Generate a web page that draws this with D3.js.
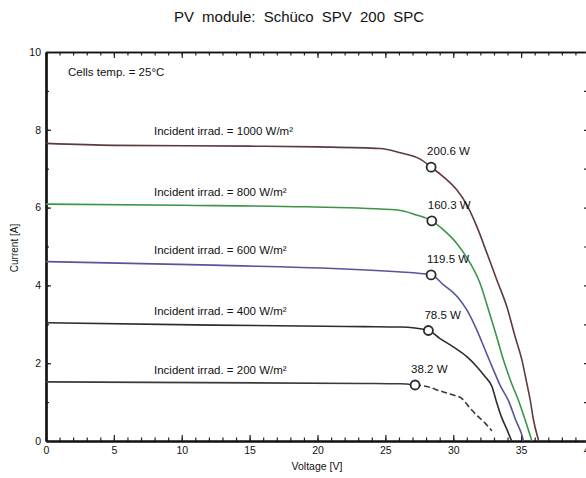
<!DOCTYPE html>
<html>
<head>
<meta charset="utf-8">
<script src="https://cdn.jsdelivr.net/npm/d3@7"></script>
<style>
  html, body { margin: 0; padding: 0; background: #fff; }
  svg { display: block; font-family: "Liberation Sans", Arial, sans-serif; }
</style>
</head>
<body>
<svg id="chart" width="586" height="478"></svg>
<script>
// ---- data ----
const irradiance = [1000, 800, 600, 400, 200];
const irradianceLabels = [
  "Incident irrad. = 1000 W/m\u00B2",
  "Incident irrad. = 800 W/m\u00B2",
  "Incident irrad. = 600 W/m\u00B2",
  "Incident irrad. = 400 W/m\u00B2",
  "Incident irrad. = 200 W/m\u00B2"
];
const powerLabels = ["200.6 W", "160.3 W", "119.5 W", "78.5 W", "38.2 W"];
const mppVoltage = [28.37, 28.42, 28.37, 28.17, 27.19];
const mppCurrent = [7.04, 5.66, 4.27, 2.84, 1.44];

const voltage1000 = [0, 5, 15, 20, 24.6, 26.1, 27.6, 28.37, 29.28, 30.27, 31.0, 31.74, 32.48, 33.21, 33.95, 34.56, 35.06, 35.42, 35.67, 35.91, 36.2, 36.3];
const current1000 = [7.65, 7.60, 7.58, 7.56, 7.52, 7.41, 7.24, 7.04, 6.79, 6.45, 6.07, 5.51, 4.83, 4.14, 3.45, 2.68, 2.08, 1.48, 1.05, 0.54, 0.12, 0];

const voltage800 = [0, 10, 19.2, 25.9, 27.3, 28.42, 29.3, 30.26, 30.88, 31.98, 32.6, 33.2, 33.7, 34.3, 34.8, 35.3, 35.7, 35.79];
const current800 = [6.09, 6.06, 6.02, 5.94, 5.81, 5.66, 5.42, 5.08, 4.78, 4.05, 3.37, 2.68, 2.08, 1.48, 1.05, 0.54, 0.10, 0];

const voltage600 = [0, 12.3, 25.9, 28.37, 29.3, 30.3, 31.0, 31.74, 32.35, 32.96, 33.5, 34.05, 34.6, 35.1, 35.17];
const current600 = [4.61, 4.52, 4.35, 4.27, 4.01, 3.71, 3.37, 2.85, 2.34, 1.83, 1.40, 1.05, 0.54, 0.10, 0];

const voltage400 = [0, 12.3, 23.4, 26.1, 28.17, 29.0, 30.0, 31.0, 31.74, 32.35, 32.85, 33.15, 33.55, 33.95, 34.3];
const current400 = [3.04, 2.98, 2.94, 2.93, 2.84, 2.64, 2.42, 2.17, 1.91, 1.65, 1.40, 1.05, 0.62, 0.30, 0];

const voltage200 = [0, 23.4, 26.1, 27.19, 28.05, 29.0, 30.0, 30.6, 31.25, 31.86, 32.35, 32.84];
const current200 = [1.52, 1.48, 1.47, 1.44, 1.40, 1.29, 1.18, 1.10, 0.84, 0.62, 0.46, 0.26];

const xTicks = [0, 5, 10, 15, 20, 25, 30, 35, 40];
const yTicks = [0, 2, 4, 6, 8, 10];

// ---- layout ----
const svg = d3.select("#chart");
const x = d3.scaleLinear().domain([0, 40]).range([46, 589]);
const y = d3.scaleLinear().domain([0, 10]).range([441, 52]);

const seriesV = [voltage1000, voltage800, voltage600, voltage400, voltage200];
const seriesI = [current1000, current800, current600, current400, current200];
const colors = ["#5e3a3c", "#3c9448", "#55559c", "#2c2c2c", "#3a3a3a"];

// title
svg.append("text").attr("x", 299).attr("y", 18)
  .attr("text-anchor", "middle").attr("dominant-baseline", "middle")
  .attr("font-size", 15).attr("fill", "#111").attr("word-spacing", 4)
  .text("PV module:  Sch\u00FCco   SPV 200 SPC");

// axes
const minorX = d3.range(0, 41, 1);
const minorY = d3.range(0, 11, 1);

function styleAxis(g, w) {
  g.select(".domain").attr("stroke", "#111").attr("stroke-width", w);
  g.selectAll(".tick line").attr("stroke", "#222").attr("stroke-width", 1.2);
  g.selectAll(".tick text").attr("fill", "#111").attr("font-size", 10.5);
}

// bottom
let g = svg.append("g").attr("transform", `translate(0,${y(0)})`)
  .call(d3.axisBottom(x).tickValues(minorX).tickSize(-3.5).tickFormat("").tickSizeOuter(0));
styleAxis(g, 2);
g = svg.append("g").attr("transform", `translate(0,${y(0)})`)
  .call(d3.axisBottom(x).tickValues(xTicks).tickSize(-6).tickPadding(6).tickSizeOuter(0));
styleAxis(g, 2);

// top
g = svg.append("g").attr("transform", `translate(0,${y(10)})`)
  .call(d3.axisTop(x).tickValues(minorX).tickSize(-3.5).tickFormat("").tickSizeOuter(0));
styleAxis(g, 1.6);
g = svg.append("g").attr("transform", `translate(0,${y(10)})`)
  .call(d3.axisTop(x).tickValues(xTicks).tickSize(-6).tickFormat("").tickSizeOuter(0));
styleAxis(g, 1.6);

// left
g = svg.append("g").attr("transform", `translate(${x(0)},0)`)
  .call(d3.axisLeft(y).tickValues(minorY).tickSize(-3).tickFormat("").tickSizeOuter(0));
styleAxis(g, 2.2);
g = svg.append("g").attr("transform", `translate(${x(0)},0)`)
  .call(d3.axisLeft(y).tickValues(yTicks).tickSize(-5).tickPadding(5).tickSizeOuter(0));
styleAxis(g, 2.2);

// right
g = svg.append("g").attr("transform", `translate(${x(40)},0)`)
  .call(d3.axisRight(y).tickValues(minorY).tickSize(-5).tickFormat("").tickSizeOuter(0));
styleAxis(g, 1.6);

// axis labels
svg.append("text").attr("x", 317).attr("y", 467)
  .attr("text-anchor", "middle").attr("dominant-baseline", "middle")
  .attr("font-size", 10.5).attr("fill", "#111").text("Voltage [V]");
svg.append("text").attr("transform", "translate(15,248) rotate(-90)")
  .attr("text-anchor", "middle").attr("dominant-baseline", "middle")
  .attr("font-size", 10).attr("fill", "#111").text("Current [A]");

// cell temp
svg.append("text").attr("x", 68).attr("y", 73)
  .attr("dominant-baseline", "middle").attr("font-size", 11.5).attr("fill", "#111")
  .text("Cells temp. = 25\u00B0C");

// curves
const line = d3.line().x(d => x(d[0])).y(d => y(d[1])).curve(d3.curveMonotoneX);
seriesV.forEach((vs, k) => {
  const pts = vs.map((v, i) => [v, seriesI[k][i]]);
  if (k === 4) {
    const solid = pts.filter(p => p[0] <= mppVoltage[k]);
    const dashed = pts.filter(p => p[0] >= mppVoltage[k]);
    svg.append("path").attr("d", line(solid)).attr("fill", "none")
      .attr("stroke", colors[k]).attr("stroke-width", 1.6);
    svg.append("path").attr("d", line(dashed)).attr("fill", "none")
      .attr("stroke", colors[k]).attr("stroke-width", 1.6).attr("stroke-dasharray", "6,3");
  } else {
    svg.append("path").attr("d", line(pts)).attr("fill", "none")
      .attr("stroke", colors[k]).attr("stroke-width", 1.6);
  }
});

// MPP circles
svg.selectAll("circle.mpp").data(irradiance).enter().append("circle")
  .attr("class", "mpp")
  .attr("cx", (d, i) => x(mppVoltage[i]))
  .attr("cy", (d, i) => y(mppCurrent[i]))
  .attr("r", 4.5).attr("fill", "#fff").attr("stroke", "#2a2a2a").attr("stroke-width", 1.8);

// power labels
svg.selectAll("text.pw").data(powerLabels).enter().append("text")
  .attr("class", "pw")
  .attr("x", (d, i) => x(mppVoltage[i]) - 4)
  .attr("y", (d, i) => y(mppCurrent[i]) - 15)
  .attr("dominant-baseline", "middle").attr("font-size", 11.5).attr("fill", "#111")
  .text(d => d);

// irradiance labels
svg.selectAll("text.irr").data(irradianceLabels).enter().append("text")
  .attr("class", "irr")
  .attr("x", 154)
  .attr("y", (d, i) => y(seriesI[i][0]) - 11)
  .attr("dominant-baseline", "middle").attr("font-size", 11.5).attr("fill", "#111")
  .text(d => d);
</script>
</body>
</html>
